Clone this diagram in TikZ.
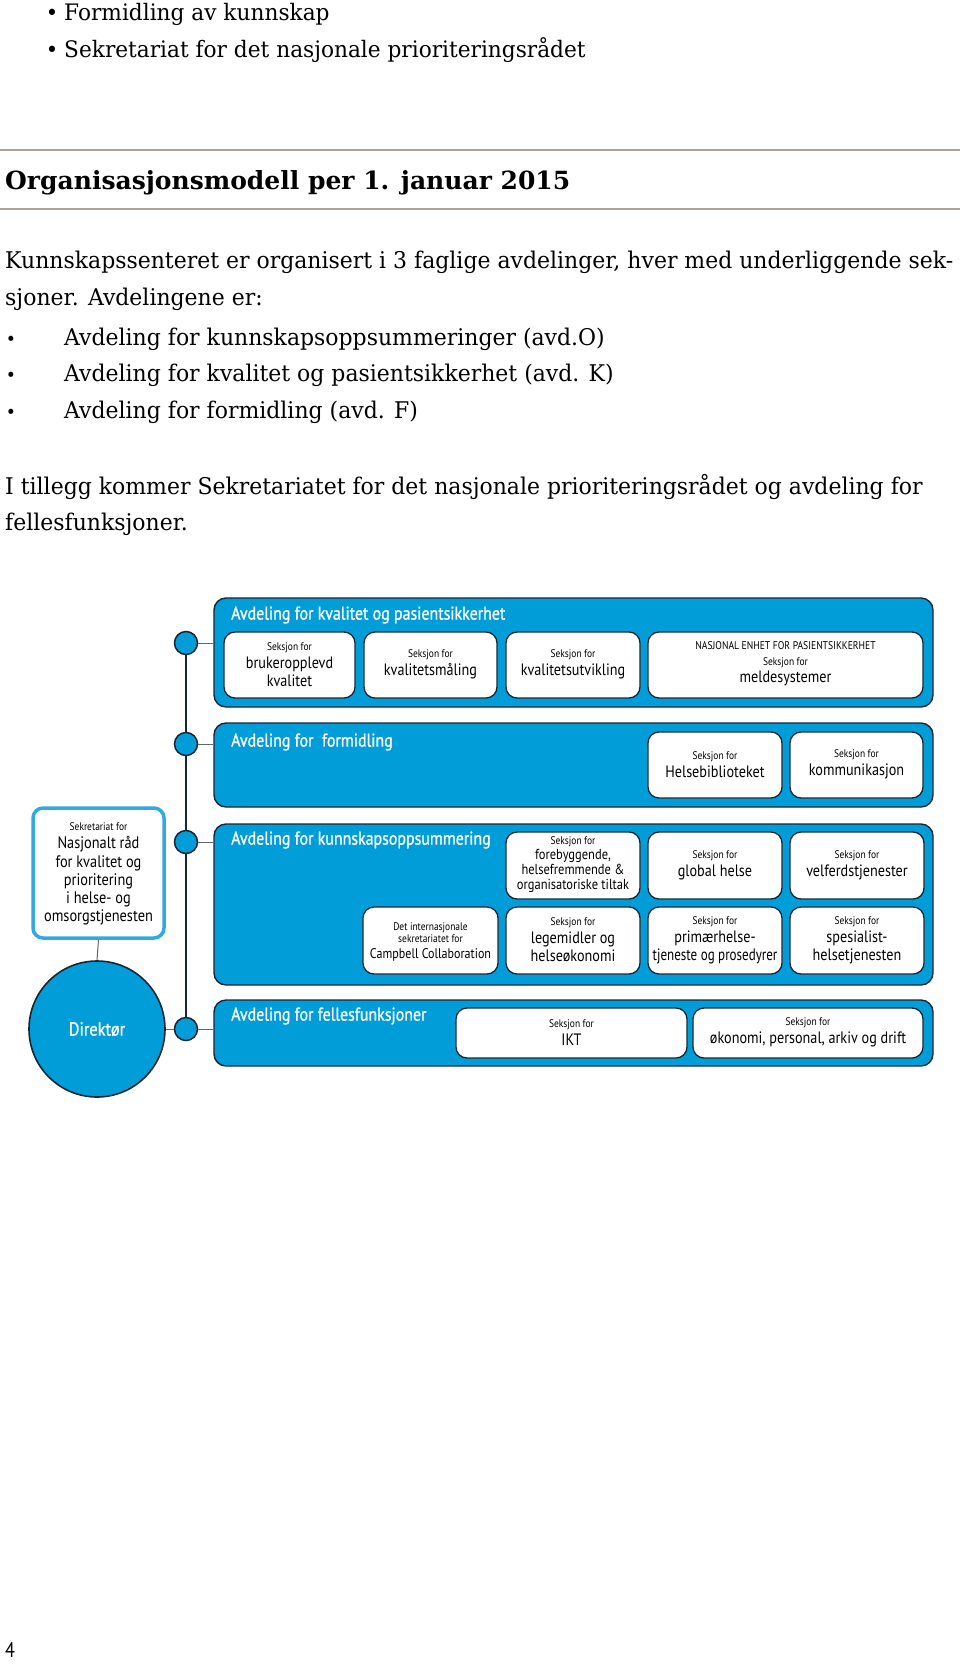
\documentclass[tikz,border=0pt]{standalone}
\usepackage{fontspec}
\setmainfont{DejaVu Serif}[FakeStretch=0.955]
\newfontfamily\hdfont{DejaVu Serif}
\newfontfamily\dia[FakeStretch=0.86]{PT Sans}
\newfontfamily\diab[FakeStretch=0.86,FakeBold=1]{PT Sans}
\newfontfamily\diac[FakeStretch=0.79]{PT Sans}
\usetikzlibrary{fit}
\definecolor{cblue}{RGB}{0,157,217}
\definecolor{dark}{RGB}{25,38,50}
\definecolor{lblue}{RGB}{50,170,225}
\definecolor{rulec}{RGB}{172,163,155}
\newcommand\skf{{\fontsize{11}{12}\selectfont Seksjon for}}
\newcommand\secb[4][]{\node[sbox, fit={#3}] (#2) {};
  \node[stext,#1] (#2t) at ([yshift=0.5pt]#2.center) {#4};}
\begin{document}
\begin{tikzpicture}[x=1pt,y=-1pt,
 dept/.style={draw=dark, fill=cblue, line width=1.4pt, rounded corners=12pt, inner sep=0pt},
 sbox/.style={draw=dark, fill=white, line width=1.3pt, rounded corners=11pt, inner sep=0pt},
 stext/.style={align=center, inner sep=0pt, font=\dia\fontsize{16.5}{18}\selectfont},
 dot/.style={circle, draw=dark, fill=cblue, line width=1.5pt, minimum size=23pt, inner sep=0pt},
 dtitle/.style={anchor=mid west, text=white, font=\diab\fontsize{18.5}{20}\selectfont, inner sep=0pt},
 body/.style={anchor=mid west, inner sep=0pt, font=\fontsize{23}{26}\selectfont},
 bul/.style={anchor=mid, inner sep=0pt, font=\fontsize{18}{20}\selectfont},
 stub/.style={draw=black!60, line width=1pt},
 spine/.style={draw=dark, line width=2pt},
 rul/.style={draw=rulec, line width=2.5pt},
]
\useasboundingbox[fill=white] (0,0) rectangle (960,1665);
% ---- text above the diagram
\node[bul, font=\fontsize{22}{24}\selectfont] (b1) at (52,17.5) {•};
\node[body, font=\fontsize{22.7}{26}\selectfont] (t1) at (64,17.5) {Formidling av kunnskap};
\node[bul, font=\fontsize{22}{24}\selectfont] (b2) at (52,54.5) {•};
\node[body, font=\fontsize{22.7}{26}\selectfont] (t2) at (64,54.5) {Sekretariat for det nasjonale prioriteringsrådet};
\coordinate (r1a) at (0,150); \coordinate (r1b) at (960,150);
\draw[rul] (r1a) -- (r1b);
\node[body, font=\hdfont\bfseries\fontsize{25}{28}\selectfont] (head) at (5,187) {Organisasjonsmodell per 1. januar 2015};
\coordinate (r2a) at (0,209); \coordinate (r2b) at (960,209);
\draw[rul] (r2a) -- (r2b);
\node[body] (p1) at (5,266) {Kunnskapssenteret er organisert i 3 faglige avdelinger, hver med underliggende sek-};
\node[body] (p2) at (5,303) {sjoner. Avdelingene er:};
\node[bul] (b3) at (11,343) {•};
\node[body] (l1) at (64,343) {Avdeling for kunnskapsoppsummeringer (avd.O)};
\node[bul] (b4) at (11,379) {•};
\node[body] (l2) at (64,379) {Avdeling for kvalitet og pasientsikkerhet (avd. K)};
\node[bul] (b5) at (11,416) {•};
\node[body] (l3) at (64,416) {Avdeling for formidling (avd. F)};
\node[body] (p3) at (5,492) {I tillegg kommer Sekretariatet for det nasjonale prioriteringsrådet og avdeling for};
\node[body] (p4) at (5,528) {fellesfunksjoner.};
% ---- departments
\node[dept, fit={(214,598) (933,707)}] (dK) {};
\node[dept, fit={(214,723) (933,807)}] (dF) {};
\node[dept, fit={(214,824) (933,985)}] (dO) {};
\node[dept, fit={(214,1000) (933,1066)}] (dS) {};
\node[dtitle] (tK) at (231,617) {Avdeling for kvalitet og pasientsikkerhet};
\node[dtitle] (tF) at (231,744) {Avdeling for\ \ formidling};
\node[dtitle] (tO) at (231,842) {Avdeling for kunnskapsoppsummering};
\node[dtitle] (tS) at (231,1018) {Avdeling for fellesfunksjoner};
% sections K
\secb{k1}{(224,632) (355,698)}{\skf\\brukeropplevd\\kvalitet}
\secb{k2}{(364,632) (497,698)}{\skf\\kvalitetsmåling}
\secb{k3}{(506,632) (640,698)}{\skf\\kvalitetsutvikling}
\secb[font=\dia\fontsize{16.5}{16.5}\selectfont, yshift=1pt]{k4}{(648,632) (923,698)}{{\fontsize{11.2}{12}\selectfont NASJONAL ENHET FOR PASIENTSIKKERHET}\\\skf\\meldesystemer}
% sections F
\secb{f1}{(648,732) (782,798)}{\skf\\Helsebiblioteket}
\secb{f2}{(790,732) (923,798)}{\skf\\kommunikasjon}
% sections O
\secb[font=\dia\fontsize{14.5}{15}\selectfont]{o1}{(506,832) (640,899)}{\skf\\forebyggende,\\helsefremmende \&\\organisatoriske tiltak}
\secb{o2}{(648,832) (782,899)}{\skf\\global helse}
\secb{o3}{(790,832) (924,899)}{\skf\\velferdstjenester}
\secb[font=\dia\fontsize{14}{16}\selectfont, yshift=-2pt]{o4}{(363,907) (498,974)}{{\fontsize{11}{12}\selectfont Det internasjonale}\\[-4pt]{\fontsize{11}{12}\selectfont sekretariatet for}\\Campbell Collaboration}
\secb{o5}{(506,907) (640,974)}{\skf\\legemidler og\\helseøkonomi}
\secb{o6}{(648,907) (782,974)}{\skf\\primærhelse-\\{\diac tjeneste og prosedyrer}}
\secb{o7}{(790,907) (924,974)}{\skf\\spesialist-\\helsetjenesten}
% sections S
\secb{s1}{(456,1008) (687,1058)}{\skf\\IKT}
\secb{s2}{(693,1008) (923,1058)}{\skf\\økonomi, personal, arkiv og drift}
% secretariat and director
\node[draw=lblue, fill=white, line width=3.5pt, rounded corners=10pt, inner sep=0pt,
      fit={(33,808) (164,938)}] (sekr) {};
\node[stext, font=\dia\fontsize{16.7}{18.3}\selectfont] (sekrt) at ([yshift=-1pt]sekr.center)
      {{\fontsize{11}{12}\selectfont Sekretariat for}\\Nasjonalt råd\\for kvalitet og\\prioritering\\i helse- og\\omsorgstjenesten};
\node[circle, draw=dark, fill=cblue, line width=1.6pt, minimum size=136pt, inner sep=0pt,
      text=white, font=\diab\fontsize{19}{21}\selectfont] (dir) at (97,1029) {Direktør};
% dots
\node[dot] (cK) at (186,643) {};
\node[dot] (cF) at (186,744) {};
\node[dot] (cO) at (186,842) {};
\node[dot] (cS) at (186,1029) {};
% connectors
\draw[spine] (cK.south) -- (cF.north);
\draw[spine] (cF.south) -- (cO.north);
\draw[spine] (cO.south) -- (cS.north);
\draw[stub] (cK.east) -- (cK -| dK.west);
\draw[stub] (cF.east) -- (cF -| dF.west);
\draw[stub] (cO.east) -- (cO -| dO.west);
\draw[stub] (cS.east) -- (cS -| dS.west);
\draw[stub] (dir.east) -- (cS.west);
\draw[stub] (sekr.south) -- (dir.north);
% page number
\node[anchor=mid west, inner sep=0pt, font=\dia\fontsize{21}{23}\selectfont] (pg) at (5,1655) {4};
\end{tikzpicture}
\end{document}
